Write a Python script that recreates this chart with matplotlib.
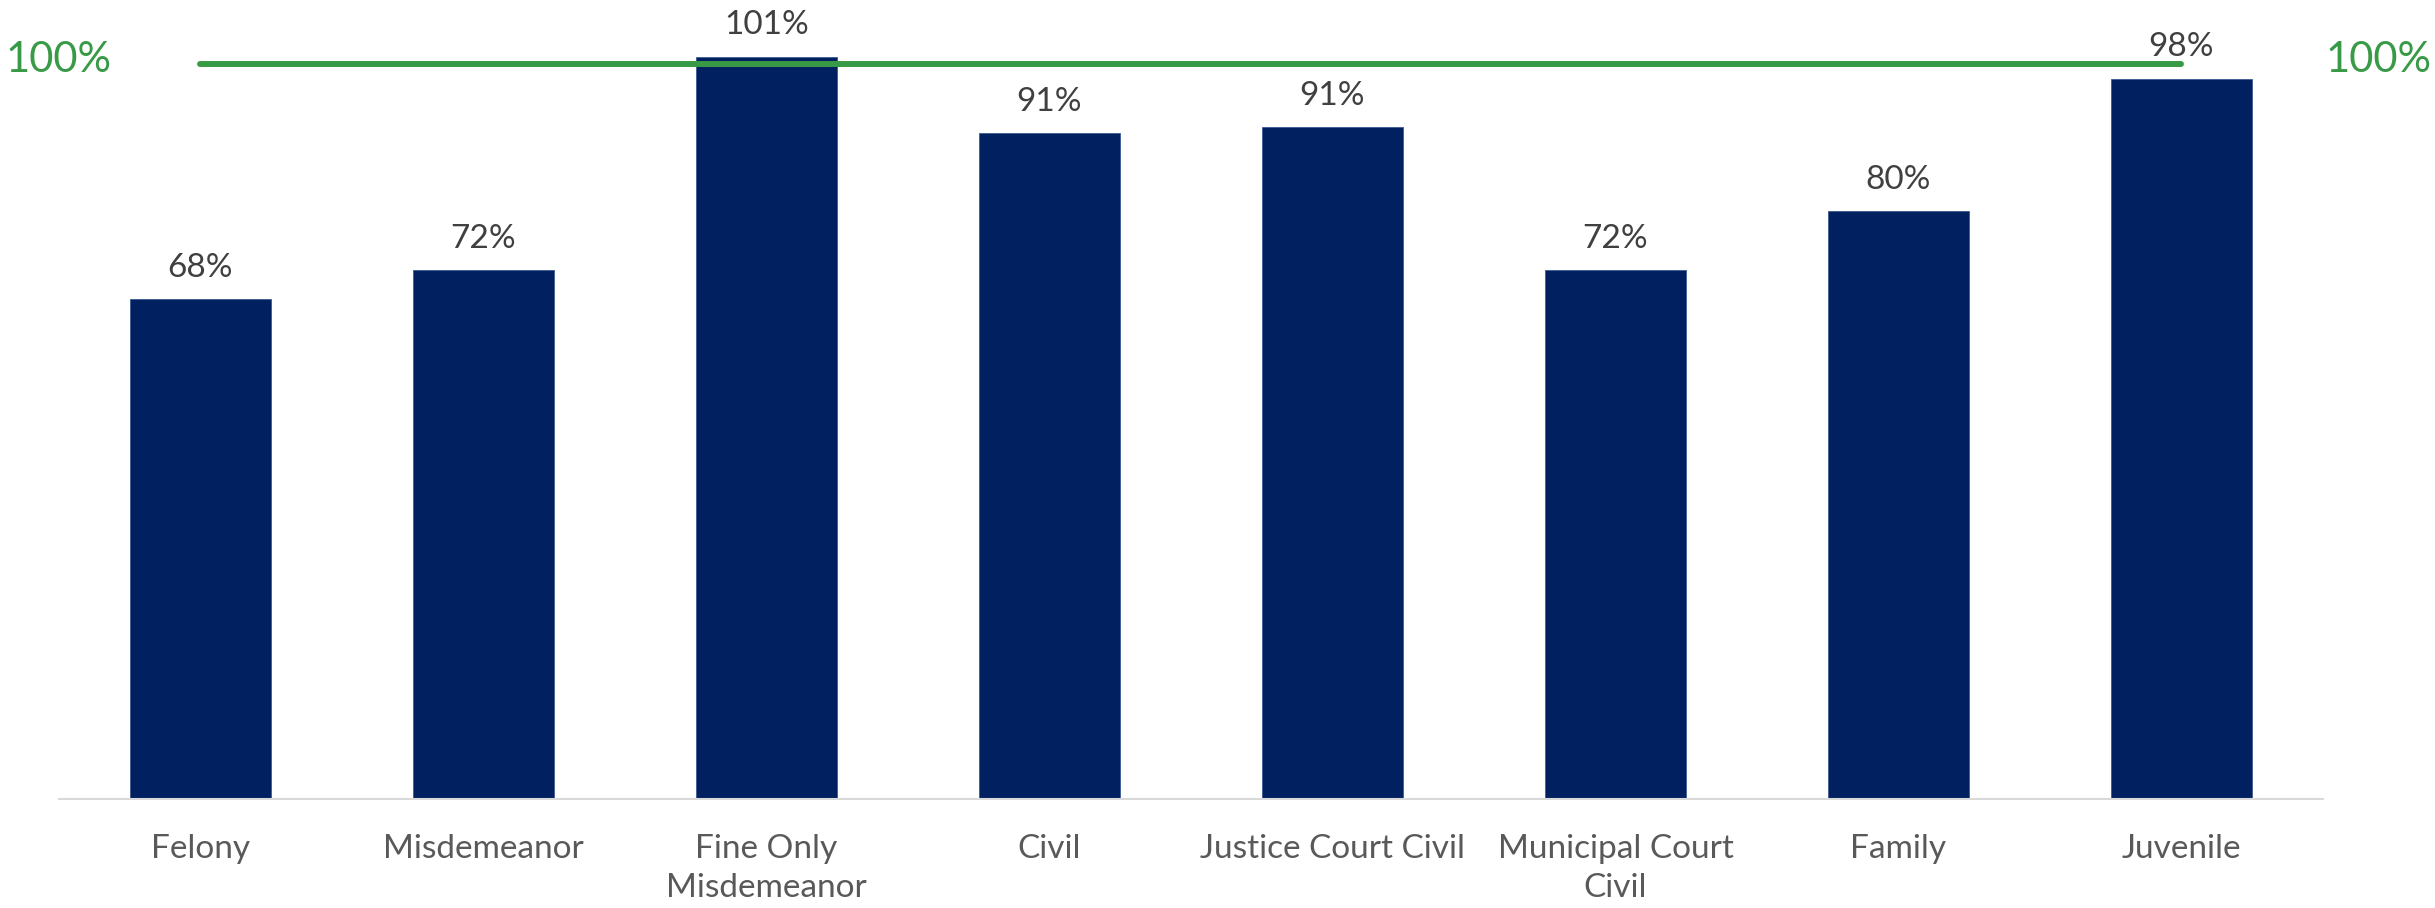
# Clearance rate by case type, with a 100% target line
import numpy as np
import matplotlib.pyplot as plt

plt.rcParams['font.family'] = ['Lato', 'DejaVu Sans']

# Data
categories = ["Felony", "Misdemeanor", "Fine Only\nMisdemeanor", "Civil",
              "Justice Court Civil", "Municipal Court\nCivil", "Family", "Juvenile"]
rates = [0.68, 0.72, 1.01, 0.906, 0.914, 0.72, 0.80, 0.98]
target = [1.0] * len(categories)

bar_color = '#002060'
line_color = '#389a46'

fig = plt.figure(figsize=(24.35, 9.08), dpi=100)
ax = fig.add_axes([0.02423, 0.12004, 0.92977, 0.87996])

x = np.arange(len(categories))
ax.bar(x, rates, width=0.5, color=bar_color, edgecolor='#3c5a93', linewidth=0.6, zorder=2)
ax.plot(x, target, color=line_color, linewidth=4.3, solid_capstyle='round', zorder=3)

# value labels over the bars
for xi, r in zip(x, rates):
    ax.annotate(f"{r:.0%}", xy=(xi, r), xytext=(0, 16), textcoords='offset points',
                ha='center', va='baseline', fontsize=24, color='#404040',
                annotation_clip=False)

# target labels at both ends of the line
ax.annotate("100%", xy=(x[0], target[0]), xytext=(-64, -6), textcoords='offset points',
            ha='right', va='baseline', fontsize=30, color=line_color, annotation_clip=False)
ax.annotate("100%", xy=(x[-1], target[-1]), xytext=(104, -6), textcoords='offset points',
            ha='left', va='baseline', fontsize=30, color=line_color, annotation_clip=False)

ax.set_xlim(-0.5, len(categories) - 0.5)
ax.set_ylim(0, 1.087)
ax.set_xticks(x)
ax.set_xticklabels(categories, fontsize=24, color='#595959', linespacing=1.4)
ax.tick_params(axis='x', length=0, pad=25)
ax.set_yticks([])

for side in ['top', 'right', 'left']:
    ax.spines[side].set_visible(False)
ax.spines['bottom'].set_color('#d9d9d9')
ax.spines['bottom'].set_linewidth(1.5)

fig.savefig('out.png', dpi=100)
